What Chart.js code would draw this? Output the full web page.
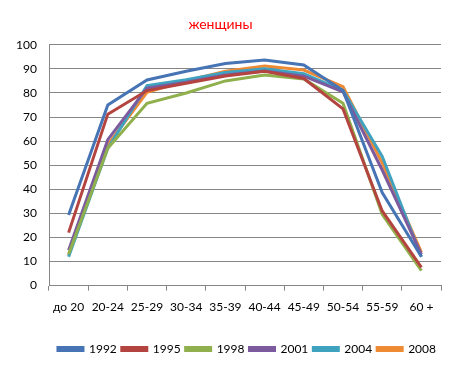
<!DOCTYPE html>
<html><head><meta charset="utf-8">
<script src="https://cdn.jsdelivr.net/npm/chart.js@4"></script>
<style>html,body{margin:0;padding:0;background:#fff}#w{width:457px;height:368px}</style>
</head><body><div id="w"><canvas id="c"></canvas></div>
<script>
const categories = ['до 20','20-24','25-29','30-34','35-39','40-44','45-49','50-54','55-59','60 +'];
const years = ['1992','1995','1998','2001','2004','2008'];
const s1992 = [29.3, 75, 85.4, 89, 92.2, 93.7, 91.6, 81, 38.6, 12];
const s1995 = [22, 71.2, 81, 84, 87, 89, 86, 73.4, 31, 7.6];
const s1998 = [13, 57, 75.7, 80, 85, 87.5, 85.8, 75.7, 29.6, 6.2];
const s2001 = [14.7, 60.6, 82, 84.5, 87.5, 89.1, 87, 80.5, 48, 13];
const s2004 = [12, 57, 83, 85.5, 88.5, 90, 88, 81, 53.7, 12];
const s2008 = [12.5, 58.5, 80.3, 85, 89, 91.2, 89.5, 82.6, 51, 13.8];
const yTicks = [0,10,20,30,40,50,60,70,80,90,100];
const colors = ['#4674b4','#b4443f','#8fb04c','#7b5b9e','#3fa3c0','#ef8a34'];
const seriesData = [s1992,s1995,s1998,s2001,s2004,s2008];
const FONT = "Lato, 'Open Sans', sans-serif";
new Chart(document.getElementById('c'), {
  type: 'line',
  data: {
    labels: categories,
    datasets: years.map((y,i)=>({label:y,data:seriesData[i],borderColor:colors[i],backgroundColor:colors[i],borderWidth:3,pointRadius:0,tension:0,fill:false}))
  },
  options: {
    responsive:true, maintainAspectRatio:false, animation:false,
    layout:{padding:{left:0,right:16,top:10,bottom:3}},
    plugins:{
      title:{display:true,text:'женщины',color:'#ff0000',font:{family:FONT,size:14,weight:'normal'},padding:{top:6,bottom:12}},
      legend:{position:'bottom',align:'end',labels:{color:'#000',font:{family:FONT,size:12},boxWidth:25,boxHeight:3,padding:5},},
      tooltip:{enabled:false}
    },
    scales:{
      x:{offset:true,grid:{display:true,drawOnChartArea:false,drawTicks:true,tickLength:5,color:'#868686',offset:true},border:{color:'#868686'},
         afterFit:s=>{s.height+=15;},
         ticks:{color:'#000',font:{family:FONT,size:12},maxRotation:0,padding:9}},
      y:{min:0,max:100,afterBuildTicks:a=>{a.ticks=yTicks.map(v=>({value:v}));},
         afterFit:s=>{s.width=49;},
         grid:{color:'#868686',drawTicks:false},border:{color:'#868686',display:true},
         ticks:{color:'#000',font:{family:FONT,size:12},padding:12}}
    }
  }
});
</script></body></html>
